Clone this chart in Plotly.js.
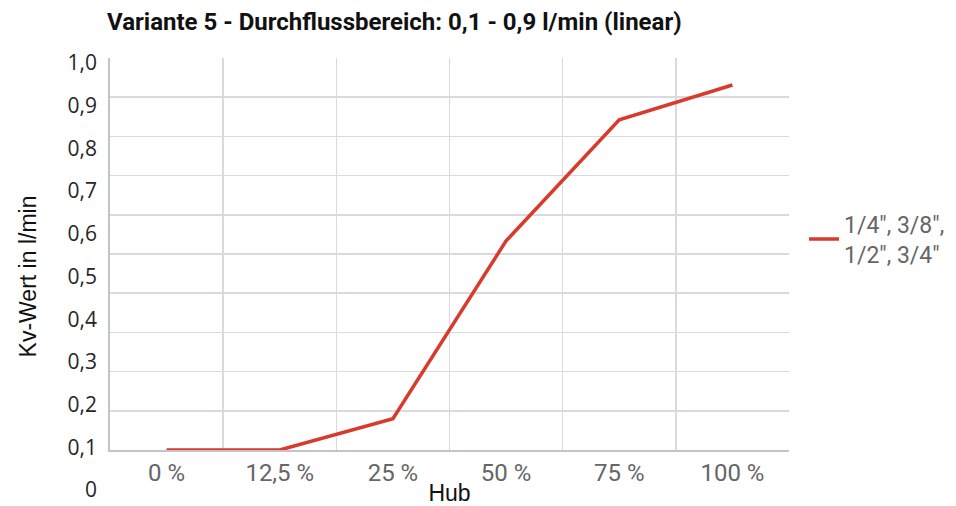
<!DOCTYPE html>
<html>
<head>
<meta charset="utf-8">
<script src="https://cdn.plot.ly/plotly-3.0.1.min.js"></script>
<style>html,body{margin:0;padding:0;background:#fff;}#chart{width:956px;height:506px;}</style>
</head>
<body>
<div id="chart"></div>
<script>
// ---- data ----
const hubCategories = ["0 %", "12,5 %", "25 %", "50 %", "75 %", "100 %"];
const kvValues = [0.1, 0.1, 0.172, 0.58, 0.858, 0.938];
const seriesName = '1/4", 3/8",<br>1/2", 3/4"';
const yTickValues = [0, 0.1, 0.2, 0.3, 0.4, 0.5, 0.6, 0.7, 0.8, 0.9, 1.0];
const yTickLabels = ["0", "0,1", "0,2", "0,3", "0,4", "0,5", "0,6", "0,7", "0,8", "0,9", "1,0"];
const chartTitle = "Variante 5 - Durchflussbereich: 0,1 - 0,9 l/min (linear)";
const xTitle = "Hub";
const yTitle = "Kv-Wert in l/min";

const W = 956, H = 506;
const px = v => v / W;
const py = v => 1 - v / H;

const gridColor = "#d9d9e2";
const axisColor = "#c3c3cb";

const traces = [
  {
    x: hubCategories,
    y: kvValues,
    type: "scatter",
    mode: "lines",
    name: seriesName,
    line: { color: "#d83a2c", width: 3.5 },
    xaxis: "x",
    yaxis: "y"
  },
  {
    // invisible companion trace so the label axis subplot exists
    x: hubCategories,
    y: kvValues,
    type: "scatter",
    mode: "lines",
    line: { width: 0 },
    opacity: 0,
    showlegend: false,
    hoverinfo: "skip",
    xaxis: "x2",
    yaxis: "y2"
  }
];

const layout = {
  width: W,
  height: H,
  margin: { l: 0, r: 0, t: 0, b: 0 },
  paper_bgcolor: "#ffffff",
  plot_bgcolor: "rgba(0,0,0,0)",
  showlegend: true,
  title: {
    text: "<b>" + chartTitle + "</b>",
    x: px(107), xanchor: "left", xref: "paper",
    y: py(22), yanchor: "middle", yref: "paper",
    font: { family: "Roboto", size: 24, color: "#111111" }
  },
  xaxis: {
    domain: [px(110), px(789)],
    type: "category",
    range: [-0.5, 5.5],
    tickson: "boundaries",
    showgrid: true,
    gridcolor: gridColor,
    gridwidth: 1.5,
    showline: true,
    linecolor: axisColor,
    linewidth: 2,
    ticks: "",
    ticklabelstandoff: 0,
    tickfont: { family: "Roboto", size: 24, color: "#666666" },
    zeroline: false,
    title: { text: xTitle, standoff: 2, font: { family: "Liberation Sans", size: 23, color: "#111111" } },
    fixedrange: true
  },
  yaxis: {
    domain: [py(450), py(58)],
    range: [0.1, 1.0],
    tick0: 0.1,
    dtick: 0.09,
    showticklabels: false,
    showgrid: true,
    gridcolor: gridColor,
    gridwidth: 1.5,
    showline: true,
    linecolor: axisColor,
    linewidth: 2,
    ticks: "",
    zeroline: false,
    fixedrange: true
  },
  xaxis2: {
    domain: [px(110), px(789)],
    type: "category",
    range: [-0.5, 5.5],
    visible: false,
    anchor: "y2",
    fixedrange: true
  },
  yaxis2: {
    domain: [py(490), py(63)],
    range: [0, 1],
    anchor: "x2",
    tickmode: "array",
    tickvals: yTickValues,
    ticktext: yTickLabels,
    showgrid: false,
    zeroline: false,
    showline: false,
    ticks: "",
    ticklabelstandoff: 12,
    tickfont: { family: "Open Sans", size: 21, color: "#262626" },
    title: { text: yTitle, standoff: 24, font: { family: "Liberation Sans", size: 23, color: "#111111" } },
    fixedrange: true
  },
  legend: {
    x: px(804), xanchor: "left",
    y: py(239), yanchor: "middle",
    font: { family: "Roboto", size: 23, color: "#666666" },
    bgcolor: "rgba(0,0,0,0)",
    borderwidth: 0,
    tracegroupgap: 0
  }
};

Plotly.newPlot("chart", traces, layout, { displayModeBar: false, staticPlot: true });
</script>
</body>
</html>
